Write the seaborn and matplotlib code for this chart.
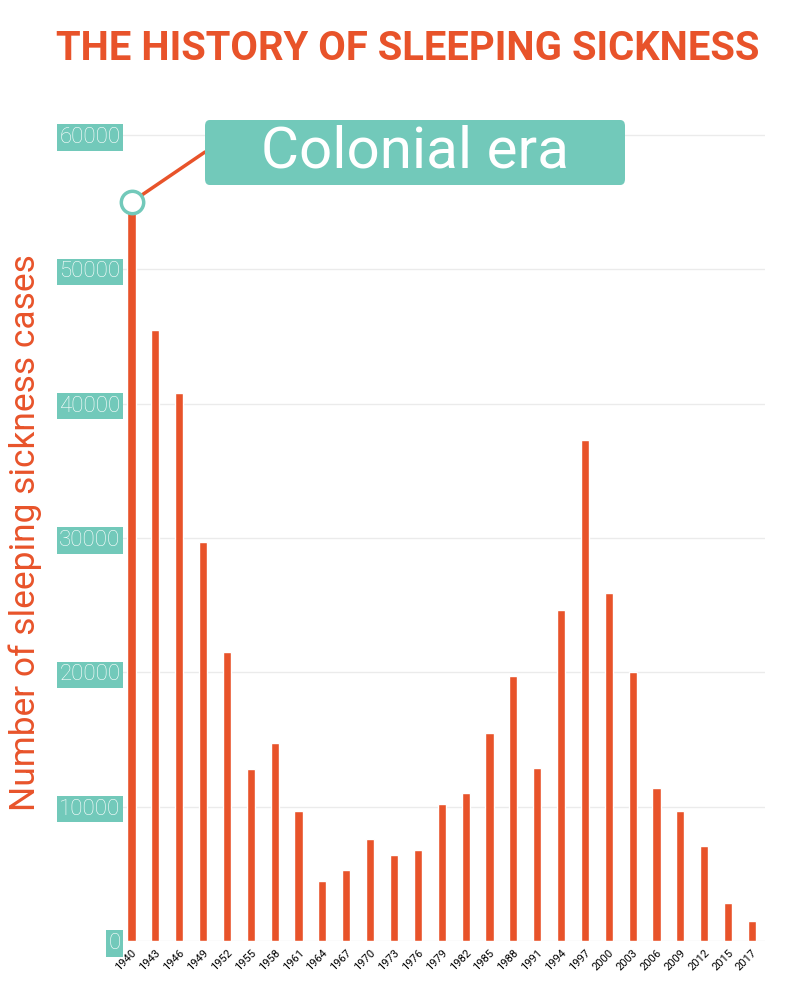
import matplotlib
matplotlib.use('Agg')
import matplotlib.pyplot as plt
import seaborn as sns
import pandas as pd
from matplotlib.patches import FancyBboxPatch

# Sleeping sickness cases per year
years = ['1940', '1943', '1946', '1949', '1952', '1955', '1958', '1961', '1964',
         '1967', '1970', '1973', '1976', '1979', '1982', '1985', '1988', '1991',
         '1994', '1997', '2000', '2003', '2006', '2009', '2012', '2015', '2017']
cases = [55000, 45500, 40800, 29700, 21500, 12800, 14700, 9700, 4500,
         5300, 7600, 6400, 6800, 10200, 11000, 15500, 19700, 12900,
         24600, 37300, 25900, 20000, 11400, 9700, 7100, 2800, 1500]
y_ticks = [0, 10000, 20000, 30000, 40000, 50000, 60000]

orange = '#E8532A'
teal = '#72C9BA'

df = pd.DataFrame({'YEAR': years, 'CASES': cases})

sns.set_style('white')
plt.rcParams['font.family'] = ['Roboto', 'DejaVu Sans']

fig = plt.figure(figsize=(7.92, 10), dpi=100)
ax = fig.add_axes([0.154, 0.059, 0.812, 0.833])

sns.barplot(data=df, x='YEAR', y='CASES', color=orange, width=0.34,
            saturation=1, ax=ax)

ax.set_ylim(0, 62000)
ax.set_xlim(-0.4, 26.55)
ax.set_yticks(y_ticks)
ax.set_yticklabels([str(t) for t in y_ticks])
ax.yaxis.grid(True, color='#ebebeb', linewidth=1)
ax.set_axisbelow(True)
for s in ax.spines.values():
    s.set_visible(False)

ax.tick_params(axis='y', length=0, pad=1, labelsize=16, labelcolor='white')
for lab in ax.get_yticklabels():
    lab.set_fontweight('light')
    lab.set_bbox(dict(facecolor=teal, edgecolor='none', pad=2))

ax.tick_params(axis='x', length=0, pad=5, labelsize=8, labelcolor='black')
plt.setp(ax.get_xticklabels(), rotation=45, ha='right', rotation_mode='anchor')

ax.set_xlabel('')
ax.set_ylabel('Number of sleeping sickness cases', color=orange, fontsize=25.5)
ax.yaxis.set_label_coords(-0.125, 0.49)

fig.text(0.515, 0.951, 'THE HISTORY OF SLEEPING SICKNESS', color=orange,
         fontsize=28.8, fontweight='bold', ha='center', va='center')

# Colonial era callout
box = FancyBboxPatch((205 / 792, 1 - 185 / 1000), 420 / 792, 65 / 1000,
                     boxstyle='round,pad=0,rounding_size=0.006',
                     transform=fig.transFigure, facecolor=teal,
                     edgecolor='none', zorder=5)
fig.patches.append(box)
fig.text(415 / 792, 1 - 152 / 1000, 'Colonial era', color='white', fontsize=42,
         ha='center', va='center', zorder=6)

ax.annotate('', xy=(0, cases[0]), xycoords='data',
            xytext=(205 / 792, 1 - 152 / 1000), textcoords='figure fraction',
            arrowprops=dict(arrowstyle='-', color=orange, lw=2.5,
                            shrinkA=0, shrinkB=8))
ax.scatter([0], [cases[0]], s=260, facecolor='white', edgecolor=teal,
           linewidth=2.5, zorder=10, clip_on=False)

plt.savefig('out.png', dpi=100)
